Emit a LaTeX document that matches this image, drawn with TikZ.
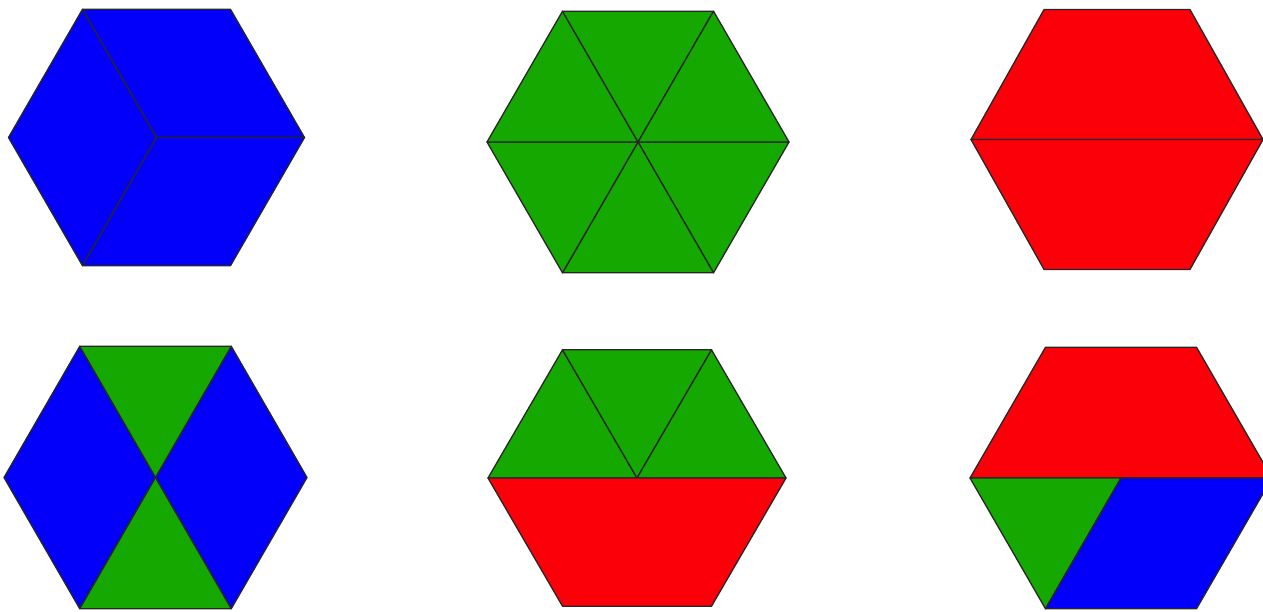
\documentclass[tikz,border=0pt]{standalone}
\usepackage{xcolor}
\usepackage{tikz}
\definecolor{blockblue}{RGB}{2,0,250}
\definecolor{blockgreen}{RGB}{20,168,0}
\definecolor{blockred}{RGB}{252,0,10}

\begin{document}
\begin{tikzpicture}[
        x=1pt, y=-1pt,
        piece/.style={draw=black!85, line width=1.3pt, line join=round},
        rhombus/.style={piece, fill=blockblue},
        triangle/.style={piece, fill=blockgreen},
        trapezoid/.style={piece, fill=blockred}
    ]
        \useasboundingbox (0,0) rectangle (1263,611);
        \clip (0,0) rectangle (1263,611);

        % corners of the six hexagons: 0 right, 1 bottom right, ... , 5 top right
        \foreach \name/\cx/\cy/\rx/\ry in {A/156.5/137.5/148/148, B/638/142/151/151, C/1117/139.5/146/150,
                                           D/155.5/477.5/151.5/151.5, E/637/478/149/148, F/1121/478/151/151} {
            \coordinate (\name c) at (\cx,\cy);
            \foreach \k/\a in {0/0, 1/60, 2/120, 3/180, 4/240, 5/300}
                \coordinate (\name\k) at ({\cx+cos(\a)*\rx},{\cy+sin(\a)*\ry});
        }

        % three rhombi
        \draw[rhombus] (Ac) -- (A4) -- (A3) -- (A2) -- cycle;
        \draw[rhombus] (Ac) -- (A4) -- (A5) -- (A0) -- cycle;
        \draw[rhombus] (Ac) -- (A0) -- (A1) -- (A2) -- cycle;

        % six triangles
        \foreach \k/\l in {0/1, 1/2, 2/3, 3/4, 4/5, 5/0}
            \draw[triangle] (Bc) -- (B\k) -- (B\l) -- cycle;

        % two trapezoids
        \draw[trapezoid] (C3) -- (C4) -- (C5) -- (C0) -- cycle;
        \draw[trapezoid] (C3) -- (C2) -- (C1) -- (C0) -- cycle;

        % two rhombi and two triangles
        \draw[rhombus] (Dc) -- (D4) -- (D3) -- (D2) -- cycle;
        \draw[rhombus] (Dc) -- (D5) -- (D0) -- (D1) -- cycle;
        \draw[triangle] (Dc) -- (D4) -- (D5) -- cycle;
        \draw[triangle] (Dc) -- (D2) -- (D1) -- cycle;

        % three triangles and a trapezoid
        \foreach \k/\l in {3/4, 4/5, 5/0}
            \draw[triangle] (Ec) -- (E\k) -- (E\l) -- cycle;
        \draw[trapezoid] (E3) -- (E2) -- (E1) -- (E0) -- cycle;

        % trapezoid, triangle and rhombus
        \draw[trapezoid] (F3) -- (F4) -- (F5) -- (F0) -- cycle;
        \draw[triangle] (F3) -- (Fc) -- (F2) -- cycle;
        \draw[rhombus] (Fc) -- (F0) -- (F1) -- (F2) -- cycle;
    \end{tikzpicture}
\end{document}
